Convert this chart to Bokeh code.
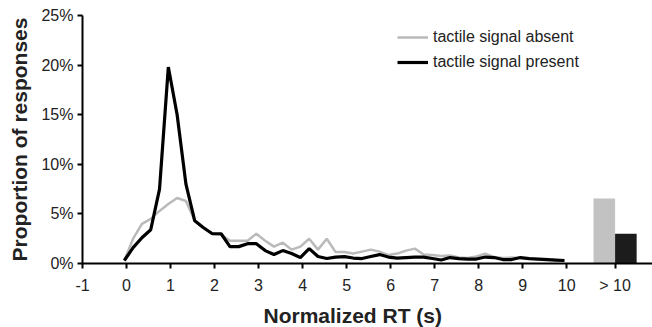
from bokeh.plotting import figure
from bokeh.models import (FixedTicker, PrintfTickFormatter, Legend, LegendItem, Title,
                          ColumnDataSource, Range1d)
from bokeh.transform import dodge
from bokeh.embed import file_html
from bokeh.resources import INLINE

# ---- data ----
rt = [-0.05, 0.15, 0.35, 0.55, 0.75, 0.95, 1.15, 1.35, 1.55, 1.75,
      1.95, 2.15, 2.35, 2.55, 2.75, 2.95, 3.15, 3.35, 3.55, 3.75,
      3.95, 4.15, 4.35, 4.55, 4.75, 4.95, 5.15, 5.35, 5.55, 5.75,
      5.95, 6.15, 6.35, 6.55, 6.75, 6.95, 7.15, 7.35, 7.55, 7.75,
      7.95, 8.15, 8.35, 8.55, 8.75, 8.95, 9.15, 9.35, 9.55, 9.75, 9.95]

absent = [0.3, 2.5, 4.0, 4.5, 5.3, 6.0, 6.6, 6.3, 4.3, 3.6,
          3.0, 2.9, 2.3, 2.3, 2.3, 3.0, 2.3, 1.7, 2.1, 1.4,
          1.7, 2.5, 1.4, 2.5, 1.15, 1.15, 1.0, 1.2, 1.4, 1.2,
          0.85, 1.0, 1.3, 1.5, 0.9, 0.85, 0.75, 0.8, 0.6, 0.55,
          0.7, 1.0, 0.65, 0.55, 0.6, 0.55, 0.5, 0.45, 0.45, 0.35, 0.3]

present = [0.3, 1.6, 2.6, 3.4, 7.5, 19.8, 15.0, 8.0, 4.3, 3.6,
           3.0, 3.0, 1.7, 1.7, 2.0, 2.0, 1.3, 0.9, 1.3, 1.0,
           0.6, 1.5, 0.7, 0.5, 0.65, 0.7, 0.55, 0.5, 0.7, 0.9,
           0.65, 0.55, 0.6, 0.65, 0.65, 0.5, 0.35, 0.6, 0.5, 0.45,
           0.45, 0.65, 0.6, 0.4, 0.4, 0.6, 0.5, 0.45, 0.4, 0.35, 0.3]

tail_category = ["> 10"]
tail_absent = [6.55]
tail_present = [3.0]

x_ticks = list(range(-1, 11))
x_tick_labels = ["-1", "0", "1", "2", "3", "4", "5", "6", "7", "8", "9", "10"]
y_ticks = [0, 5, 10, 15, 20, 25]

series_labels = ["tactile signal absent", "tactile signal present"]
x_label = "Normalized RT (s)"
y_label = "Proportion of responses"

# ---- layout constants (axis geometry, not data) ----
X_START, X_END = -1, 11.95          # visible x extent
TAIL_CENTER = 11.1                  # where the "> 10" category sits on the axis
BAR_W = 0.49

FONT = "Liberation Sans"
GRAY_LINE = "#bababa"
GRAY_BAR = "#c2c2c2"
DARK_BAR = "#1c1c1c"
TEXT = "#222222"


def style_axis(ax):
    ax.axis_line_width = 2
    ax.axis_line_color = "black"
    ax.major_tick_line_width = 2
    ax.major_tick_line_color = "black"
    ax.major_tick_out = 5
    ax.major_tick_in = 0
    ax.minor_tick_line_color = None
    ax.major_label_text_font = FONT
    ax.major_label_text_font_size = "16px"
    ax.major_label_text_color = TEXT
    ax.major_label_standoff = 8


p = figure(frame_width=570, frame_height=248,
           x_range=Range1d(X_START, X_END), y_range=Range1d(0, 25),
           output_backend="svg", toolbar_location=None,
           min_border_left=82, min_border_right=0,
           min_border_top=15, min_border_bottom=64)
p.outline_line_color = None
p.grid.grid_line_color = None

r_abs = p.line(rt, absent, line_color=GRAY_LINE, line_width=2.5)
r_pre = p.line(rt, present, line_color="black", line_width=3.2)

# "> 10" bars
src = ColumnDataSource(dict(cat=tail_category, pos=[TAIL_CENTER] * len(tail_category),
                            absent=tail_absent, present=tail_present))
p.vbar(x=dodge("pos", -BAR_W / 2), top="absent", width=BAR_W, source=src,
       fill_color=GRAY_BAR, line_color=None)
p.vbar(x=dodge("pos", BAR_W / 2), top="present", width=BAR_W, source=src,
       fill_color=DARK_BAR, line_color=None)

# x axis: numeric ticks plus the "> 10" category tick
xa = p.xaxis[0]
xa.ticker = FixedTicker(ticks=x_ticks + [TAIL_CENTER])
overrides = {t: lab for t, lab in zip(x_ticks, x_tick_labels)}
overrides[TAIL_CENTER] = tail_category[0]
xa.major_label_overrides = overrides
style_axis(xa)

ya = p.yaxis[0]
ya.ticker = FixedTicker(ticks=y_ticks)
ya.formatter = PrintfTickFormatter(format="%d%%")
style_axis(ya)
ya.major_label_standoff = 4
ya.axis_label = y_label
ya.axis_label_text_font = FONT
ya.axis_label_text_font_size = "21px"
ya.axis_label_text_font_style = "bold"
ya.axis_label_text_color = TEXT
ya.axis_label_standoff = 7

p.add_layout(Title(text=x_label, align="left", offset=181,
                   text_font=FONT, text_font_size="21px",
                   text_font_style="bold", text_color=TEXT, standoff=11), "below")

legend = Legend(items=[LegendItem(label=series_labels[0], renderers=[r_abs]),
                       LegendItem(label=series_labels[1], renderers=[r_pre])],
                location=(315, 191), orientation="vertical",
                glyph_width=31, glyph_height=20, label_height=20,
                label_standoff=5, spacing=5, padding=0, margin=0,
                border_line_color=None, background_fill_alpha=0,
                label_text_font=FONT, label_text_font_size="16px",
                label_text_color=TEXT)
p.add_layout(legend)

open("out.html", "w").write(file_html(p, INLINE))
